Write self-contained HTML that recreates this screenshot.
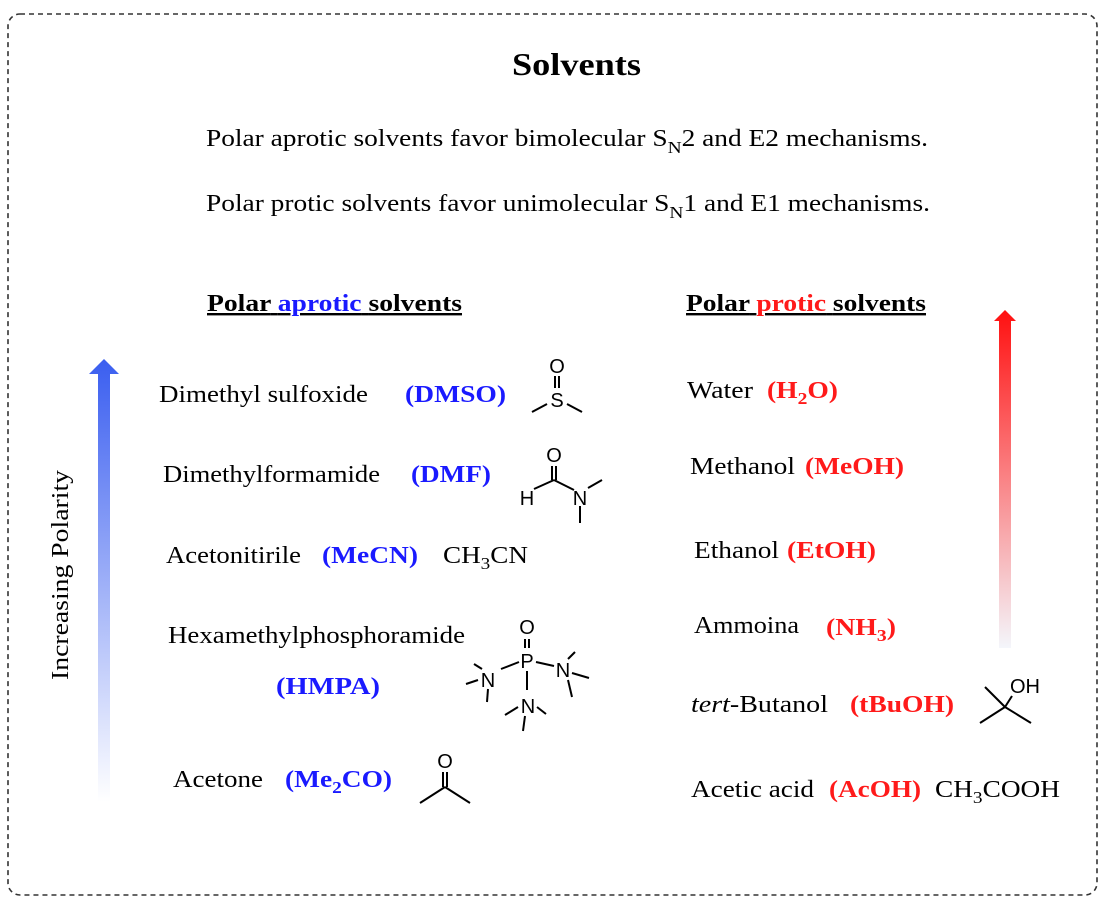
<!DOCTYPE html>
<html><head><meta charset="utf-8"><style>
html,body{margin:0;padding:0;background:#fff;}
svg{display:block;}
.t{font-family:"Liberation Serif",serif;font-size:24px;fill:#000;}
.b{font-family:"Liberation Serif",serif;font-size:24px;font-weight:bold;fill:#1a1aff;}
.r{font-family:"Liberation Serif",serif;font-size:24px;font-weight:bold;fill:#ff1a1a;}
.h{font-family:"Liberation Serif",serif;font-size:24px;font-weight:bold;text-decoration:underline;}
.s{font-family:"Liberation Sans",sans-serif;font-size:20px;fill:#000;}
</style></head><body>
<svg width="1106" height="908" viewBox="0 0 1106 908" xmlns="http://www.w3.org/2000/svg">
<defs>
<linearGradient id="gb" x1="0" y1="1" x2="0" y2="0"><stop offset="0" stop-color="#fff"/><stop offset="1" stop-color="#3a5ef0"/></linearGradient>
<linearGradient id="gr" x1="0" y1="1" x2="0" y2="0"><stop offset="0" stop-color="#f4f6fb"/><stop offset="1" stop-color="#ff1010"/></linearGradient>
</defs>
<rect x="8" y="14" width="1089" height="881" rx="12" fill="none" stroke="#333" stroke-width="1.6" stroke-dasharray="5,4"/>
<text x="512" y="75" textLength="129" lengthAdjust="spacingAndGlyphs" style="font-family:'Liberation Serif',serif;font-size:32px;font-weight:bold">Solvents</text>
<text class="t" x="206" y="146" textLength="722" lengthAdjust="spacingAndGlyphs">Polar aprotic solvents favor bimolecular  S<tspan dy="7" font-size="17">N</tspan><tspan dy="-7">2 and E2 mechanisms.</tspan></text>
<text class="t" x="206" y="211" textLength="724" lengthAdjust="spacingAndGlyphs">Polar protic solvents favor unimolecular  S<tspan dy="7" font-size="17">N</tspan><tspan dy="-7">1 and E1 mechanisms.</tspan></text>
<text class="h" x="207" y="311" textLength="255" lengthAdjust="spacingAndGlyphs"><tspan fill="#000">Polar</tspan> <tspan fill="#1a1aff">aprotic</tspan> <tspan fill="#000">solvents</tspan></text>
<text class="h" x="686" y="311" textLength="240" lengthAdjust="spacingAndGlyphs"><tspan fill="#000">Polar</tspan> <tspan fill="#ff1a1a">protic</tspan> <tspan fill="#000">solvents</tspan></text>
<path d="M98,374 L98,802 L110,802 L110,374 L119,374 L104,359 L89,374 Z" fill="url(#gb)"/>
<path d="M999,321 L999,648 L1011,648 L1011,321 L1016,321 L1005,310 L994,321 Z" fill="url(#gr)"/>
<text class="t" x="-105" y="0" transform="translate(68,575) rotate(-90)" textLength="210" lengthAdjust="spacingAndGlyphs">Increasing Polarity</text>
<text class="t" x="159" y="402" textLength="209" lengthAdjust="spacingAndGlyphs">Dimethyl sulfoxide</text><text class="b" x="405" y="402" textLength="101" lengthAdjust="spacingAndGlyphs">(DMSO)</text>
<text class="t" x="163" y="482" textLength="217" lengthAdjust="spacingAndGlyphs">Dimethylformamide</text><text class="b" x="411" y="482" textLength="80" lengthAdjust="spacingAndGlyphs">(DMF)</text>
<text class="t" x="166" y="563" textLength="135" lengthAdjust="spacingAndGlyphs">Acetonitirile</text><text class="b" x="322" y="563" textLength="96" lengthAdjust="spacingAndGlyphs">(MeCN)</text>
<text class="t" x="443" y="563" textLength="85" lengthAdjust="spacingAndGlyphs">CH<tspan dy="6" font-size="17">3</tspan><tspan dy="-6">CN</tspan></text>
<text class="t" x="168" y="643" textLength="297" lengthAdjust="spacingAndGlyphs">Hexamethylphosphoramide</text><text class="b" x="276" y="694" textLength="104" lengthAdjust="spacingAndGlyphs">(HMPA)</text>
<text class="t" x="173" y="787" textLength="90" lengthAdjust="spacingAndGlyphs">Acetone</text><text class="b" x="285" y="787" textLength="107" lengthAdjust="spacingAndGlyphs">(Me<tspan dy="6" font-size="17">2</tspan><tspan dy="-6">CO)</tspan></text>
<text class="t" x="687" y="398" textLength="66" lengthAdjust="spacingAndGlyphs">Water</text><text class="r" x="767" y="398" textLength="71" lengthAdjust="spacingAndGlyphs">(H<tspan dy="6" font-size="17">2</tspan><tspan dy="-6">O)</tspan></text>
<text class="t" x="690" y="474" textLength="105" lengthAdjust="spacingAndGlyphs">Methanol</text><text class="r" x="805" y="474" textLength="99" lengthAdjust="spacingAndGlyphs">(MeOH)</text>
<text class="t" x="694" y="558" textLength="85" lengthAdjust="spacingAndGlyphs">Ethanol</text><text class="r" x="787" y="558" textLength="89" lengthAdjust="spacingAndGlyphs">(EtOH)</text>
<text class="t" x="694" y="633" textLength="105" lengthAdjust="spacingAndGlyphs">Ammoina</text><text class="r" x="826" y="635" textLength="70" lengthAdjust="spacingAndGlyphs">(NH<tspan dy="6" font-size="17">3</tspan><tspan dy="-6">)</tspan></text>
<text class="t" x="691" y="712" textLength="137" lengthAdjust="spacingAndGlyphs"><tspan font-style="italic">tert</tspan>-Butanol</text><text class="r" x="850" y="712" textLength="104" lengthAdjust="spacingAndGlyphs">(tBuOH)</text>
<text class="t" x="691" y="797" textLength="123" lengthAdjust="spacingAndGlyphs">Acetic acid</text><text class="r" x="829" y="797" textLength="92" lengthAdjust="spacingAndGlyphs">(AcOH)</text>
<text class="t" x="935" y="797" textLength="125" lengthAdjust="spacingAndGlyphs">CH<tspan dy="6" font-size="17">3</tspan><tspan dy="-6">COOH</tspan></text>
<g stroke="#000" stroke-width="2" fill="none">
<line x1="555" y1="376" x2="555" y2="388"/><line x1="559" y1="376" x2="559" y2="388"/>
<line x1="547" y1="404" x2="532" y2="412"/><line x1="567" y1="404" x2="582" y2="412"/>
<line x1="552" y1="466" x2="552" y2="480"/><line x1="556" y1="466" x2="556" y2="480"/>
<line x1="534" y1="489" x2="554" y2="480"/><line x1="554" y1="480" x2="574" y2="490"/>
<line x1="588" y1="488" x2="602" y2="480"/><line x1="580" y1="506" x2="580" y2="523"/>
<line x1="525" y1="639" x2="525" y2="648"/><line x1="529" y1="639" x2="529" y2="648"/>
<line x1="519" y1="662" x2="501" y2="669"/><line x1="536" y1="662" x2="554" y2="666"/>
<line x1="527" y1="671" x2="527" y2="690"/>
<line x1="482" y1="669" x2="474" y2="664"/><line x1="478" y1="680" x2="466" y2="684"/><line x1="488" y1="689" x2="487" y2="702"/>
<line x1="568" y1="659" x2="575" y2="652"/><line x1="572" y1="673" x2="589" y2="678"/><line x1="568" y1="680" x2="572" y2="697"/>
<line x1="518" y1="707" x2="505" y2="715"/><line x1="537" y1="707" x2="546" y2="714"/><line x1="525" y1="716" x2="523" y2="731"/>
<line x1="443" y1="772" x2="443" y2="787"/><line x1="447" y1="772" x2="447" y2="787"/>
<line x1="420" y1="803" x2="445" y2="787"/><line x1="445" y1="787" x2="470" y2="803"/>
<line x1="985" y1="687" x2="1005" y2="707"/><line x1="1005" y1="707" x2="1012" y2="696"/>
<line x1="980" y1="723" x2="1005" y2="707"/><line x1="1005" y1="707" x2="1031" y2="723"/>
</g>
<text class="s" x="557" y="373" text-anchor="middle">O</text>
<text class="s" x="557" y="407" text-anchor="middle">S</text>
<text class="s" x="554" y="462" text-anchor="middle">O</text>
<text class="s" x="527" y="505" text-anchor="middle">H</text>
<text class="s" x="580" y="505" text-anchor="middle">N</text>
<text class="s" x="527" y="634" text-anchor="middle">O</text>
<text class="s" x="527" y="668" text-anchor="middle">P</text>
<text class="s" x="488" y="687" text-anchor="middle">N</text>
<text class="s" x="563" y="677" text-anchor="middle">N</text>
<text class="s" x="528" y="713" text-anchor="middle">N</text>
<text class="s" x="445" y="768" text-anchor="middle">O</text>
<text class="s" x="1010" y="693">OH</text>
</svg>
</body></html>
